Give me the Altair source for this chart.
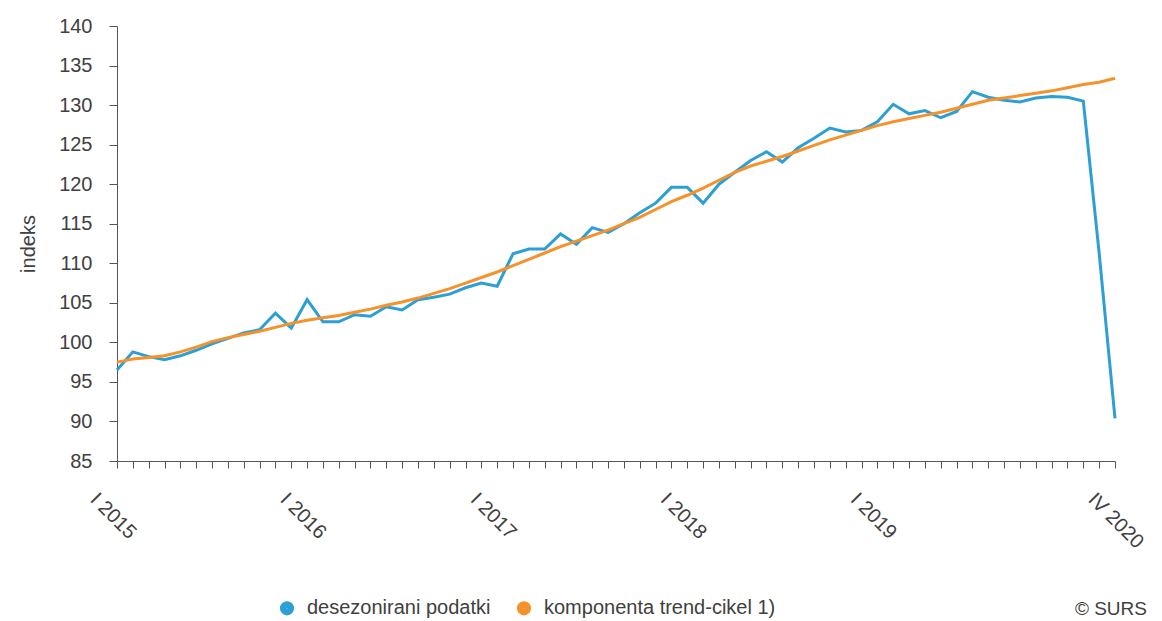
import altair as alt
import pandas as pd

roman = ["I", "II", "III", "IV", "V", "VI", "VII", "VIII", "IX", "X", "XI", "XII"]
years = [2015, 2016, 2017, 2018, 2019, 2020]
periods = [f"{roman[m]} {y}" for y in years for m in range(12)][:64]

shown_labels = ["I 2015", "I 2016", "I 2017", "I 2018", "I 2019", "IV 2020"]

seasonally_adjusted = [
    96.5, 98.8, 98.2, 97.8, 98.3, 99.0, 99.8, 100.5, 101.2, 101.6,
    103.7, 101.8, 105.4, 102.6, 102.6, 103.5, 103.3, 104.5, 104.1, 105.4,
    105.7, 106.1, 106.9, 107.5, 107.1, 111.2, 111.8, 111.8, 113.7, 112.4,
    114.5, 113.9, 115.0, 116.4, 117.6, 119.6, 119.6, 117.6, 120.0, 121.5,
    123.0, 124.1, 122.8, 124.6, 125.8, 127.1, 126.6, 126.8, 127.9, 130.1,
    128.9, 129.3, 128.4, 129.2, 131.7, 131.0, 130.6, 130.4, 130.9, 131.1,
    131.0, 130.5, 111.3, 90.4,
]

trend_cycle = [
    97.5, 97.9, 98.1, 98.3, 98.8, 99.4, 100.1, 100.6, 101.0, 101.4,
    101.9, 102.4, 102.8, 103.1, 103.4, 103.8, 104.2, 104.7, 105.1, 105.6,
    106.2, 106.8, 107.5, 108.2, 108.9, 109.7, 110.5, 111.3, 112.1, 112.8,
    113.5, 114.2, 115.0, 115.8, 116.8, 117.8, 118.6, 119.5, 120.5, 121.5,
    122.3, 122.9, 123.5, 124.2, 124.9, 125.6, 126.2, 126.8, 127.4, 127.9,
    128.3, 128.7, 129.1, 129.6, 130.1, 130.6, 130.9, 131.2, 131.5, 131.8,
    132.2, 132.6, 132.9, 133.4,
]

series_names = ["desezonirani podatki", "komponenta trend-cikel 1)"]
series_colors = ["#2C9FD4", "#F5922B"]
credit = ["© SURS"]

df = pd.concat([
    pd.DataFrame({"period": periods, "value": seasonally_adjusted, "series": series_names[0]}),
    pd.DataFrame({"period": periods, "value": trend_cycle, "series": series_names[1]}),
])

FONT = "Liberation Sans"
TXT = "#404040"

label_expr = "indexof([" + ",".join(f"'{l}'" for l in shown_labels) + "], datum.value) >= 0 ? datum.value : ''"

lines = alt.Chart(df).mark_line(strokeWidth=3).encode(
    x=alt.X(
        "period:O",
        sort=periods,
        scale=alt.Scale(type="point", padding=0),
        axis=alt.Axis(
            title=None,
            labelExpr=label_expr,
            labelAngle=45,
            labelFontSize=20,
            labelFont=FONT,
            labelColor=TXT,
            labelOverlap=False,
            labelOffset=-17,
            labelPadding=21,
            tickSize=7,
            tickColor="#555555",
            domainColor="#555555",
            grid=False,
        ),
    ),
    y=alt.Y(
        "value:Q",
        scale=alt.Scale(domain=[85, 140], nice=False, zero=False),
        axis=alt.Axis(
            title="indeks",
            values=list(range(85, 141, 5)),
            labelFontSize=20,
            labelFont=FONT,
            labelColor=TXT,
            labelPadding=17,
            tickSize=8,
            tickColor="#555555",
            domainColor="#555555",
            titleFont=FONT,
            titleFontSize=20,
            titleFontWeight="normal",
            titleColor=TXT,
            titlePadding=20,
            grid=False,
        ),
    ),
    color=alt.Color(
        "series:N",
        scale=alt.Scale(domain=series_names, range=series_colors),
        legend=alt.Legend(
            title=None,
            orient="none",
            direction="horizontal",
            legendX=160,
            legendY=572,
            symbolType="circle",
            symbolSize=44,
            symbolStrokeWidth=7.5,
            labelFont=FONT,
            labelFontSize=20,
            labelColor=TXT,
            labelLimit=400,
            labelOffset=10,
            columnPadding=14,
            padding=0,
        ),
    ),
)

credit_text = alt.Chart(pd.DataFrame({"t": credit})).mark_text(
    font=FONT, fontSize=19, color=TXT, align="right", baseline="middle"
).encode(text="t:N", x=alt.value(1030), y=alt.value(583))

chart = alt.layer(lines, credit_text).properties(
    width=998,
    height=435,
    autosize=alt.AutoSizeParams(type="none"),
    padding={"left": 109, "top": 18, "right": 35, "bottom": 158},
).configure_view(stroke=None)

chart.save("out.html", embed_options={"renderer": "svg", "actions": False})
